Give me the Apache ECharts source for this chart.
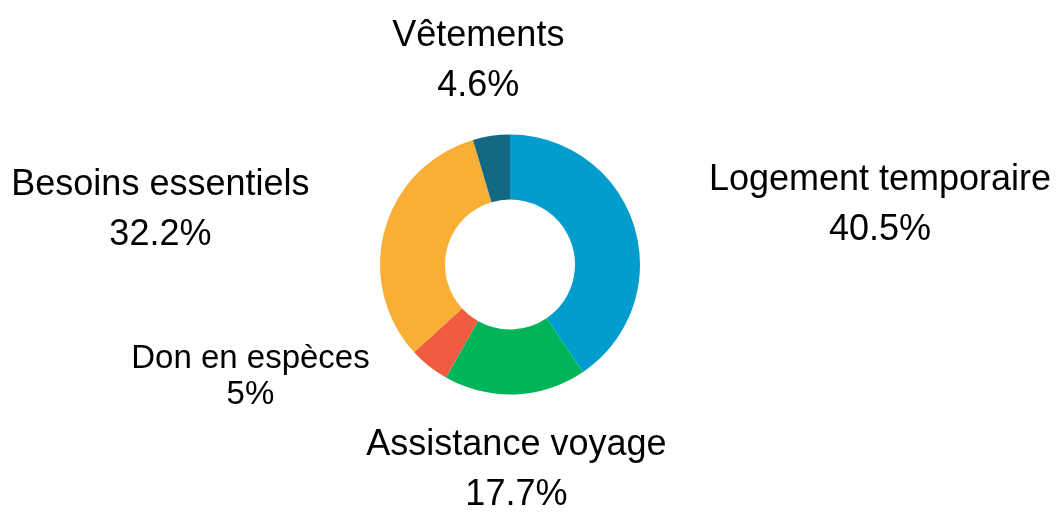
<!DOCTYPE html>
<html>
<head>
<meta charset="utf-8">
<script src="https://cdn.jsdelivr.net/npm/echarts@6/dist/echarts.min.js"></script>
<style>html,body{margin:0;padding:0;background:#fff;}#c{width:1060px;height:517px;}</style>
</head>
<body>
<div id="c"></div>
<script>
const categories = ['Logement temporaire', 'Assistance voyage', 'Don en espèces', 'Besoins essentiels', 'Vêtements'];
const values = [40.5, 17.7, 5, 32.2, 4.6];
const colors = ['#029DCC', '#00B459', '#EF5C40', '#F9AE35', '#136984'];

// label layout tweaks per slice (style only)
const labelTweaks = [
  { dy: 1 },
  { center: true, dx: -4, dy: 0 },
  { dx: -10, dy: -49, small: true },
  { dy: 1 },
  { center: true, dy: 0 }
];

const chart = echarts.init(document.getElementById('c'), null, { renderer: 'canvas' });
chart.setOption({
  animation: false,
  backgroundColor: '#fff',
  series: [{
    type: 'pie',
    center: [510, 264.5],
    radius: [65, 130],
    startAngle: 90,
    clockwise: true,
    avoidLabelOverlap: false,
    itemStyle: { borderWidth: 0 },
    label: {
      show: true,
      position: 'outside',
      distanceToLabelLine: 2,
      fontFamily: 'Liberation Sans, Arial, sans-serif',
      fontSize: 36,
      lineHeight: 50,
      color: '#000',
      formatter: p => p.name + '\n' + p.value + '%'
    },
    labelLine: { show: false, length: 76, length2: 0 },
    labelLayout: function (params) {
      const t = labelTweaks[params.dataIndex] || {};
      const w = params.labelRect.width;
      let dx = t.dx || 0;
      if (!t.center) {
        if (params.align === 'left') dx += w / 2;
        else if (params.align === 'right') dx -= w / 2;
      }
      return { align: 'center', dx: dx, dy: t.dy || 0 };
    },
    data: categories.map((name, i) => {
      const item = { name: name, value: values[i], itemStyle: { color: colors[i] } };
      if (labelTweaks[i].small) item.label = { fontSize: 33, lineHeight: 36 };
      return item;
    })
  }]
});
</script>
</body>
</html>
